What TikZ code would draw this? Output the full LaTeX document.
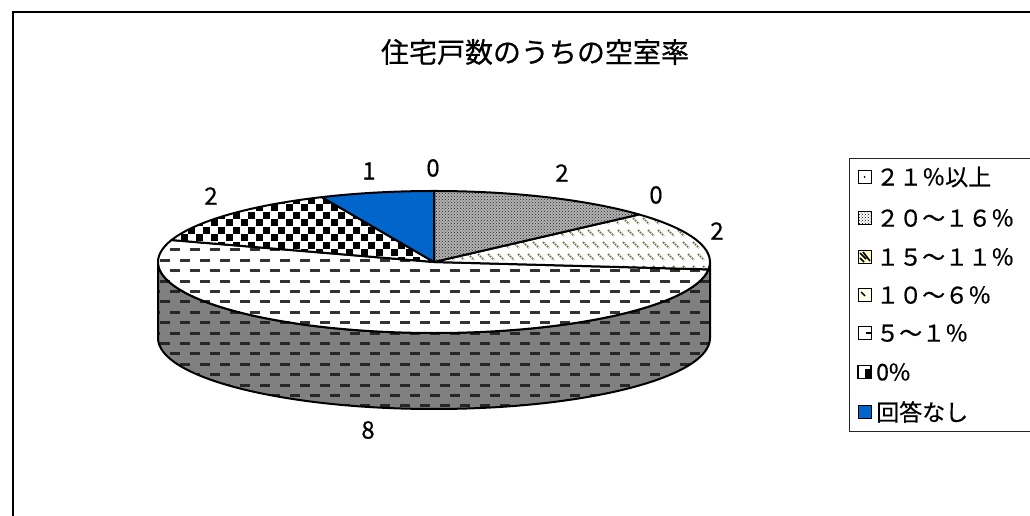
\documentclass[tikz,border=0pt]{standalone}
\usepackage{fontspec}
\setmainfont{Noto Sans CJK JP}[FakeBold=0.5]
\usetikzlibrary{patterns}
\definecolor{pieblue}{RGB}{0,102,204}
\definecolor{olivedash}{RGB}{120,120,80}
\definecolor{sidegray}{RGB}{128,128,128}
\definecolor{dashdark}{RGB}{50,50,50}
\definecolor{lightyel}{RGB}{255,255,204}
\begin{document}
\begin{tikzpicture}[x=1pt,y=1pt,
  outline/.style={draw=black,line width=2pt,line join=round},
  lbl/.style={font=\fontsize{24}{28}\selectfont,inner sep=0pt},
  legtext/.style={font=\fontsize{23}{27}\selectfont,anchor=west,inner sep=0pt},
  swatch/.style={draw=black,line width=1pt},
  dashrow/.style={line width=3pt,dash pattern=on 10pt off 10pt},
  hatchline/.style={draw=olivedash,line width=2pt,dash pattern=on 1.6pt off 1.2pt}]
\useasboundingbox (0,0) rectangle (1030,516);
\fill[white] (0,0) rectangle (1030,516);
\draw[line width=2.4pt] (13,-20) -- (13,504) -- (1050,504);
% paths
\def\sidepath{(158,254) -- (158,178) arc[start angle=180,end angle=360,x radius=276,y radius=71] -- (710,254) arc[start angle=0,end angle=-180,x radius=276,y radius=71] -- cycle}
\def\secA{(434,254) -- ++(90:276pt and 71pt) arc[start angle=90,end angle=42,x radius=276,y radius=71] -- cycle}
\def\secB{(434,254) -- ++(42:276pt and 71pt) arc[start angle=42,end angle=-6,x radius=276,y radius=71] -- cycle}
\def\secC{(434,254) -- ++(-6:276pt and 71pt) arc[start angle=-6,end angle=-198,x radius=276,y radius=71] -- cycle}
\def\secD{(434,254) -- ++(162:276pt and 71pt) arc[start angle=162,end angle=114,x radius=276,y radius=71] -- cycle}
\def\secE{(434,254) -- ++(114:276pt and 71pt) arc[start angle=114,end angle=90,x radius=276,y radius=71] -- cycle}
% side wall
\fill[sidegray] \sidepath;
\begin{scope}
  \clip \sidepath;
  \foreach \k in {0,...,17} {
    \pgfmathsetmacro\yy{266-10.4*\k}
    \pgfmathsetmacro\ph{10*mod(\k,2)}
    \draw[dashrow,draw=black!85,dash phase=\ph pt] (150,\yy) -- (720,\yy);
  }
\end{scope}
\draw[outline] \sidepath;
% 5-1% top
\fill[white] \secC;
\begin{scope}
  \clip \secC;
  \foreach \k in {0,...,9} {
    \pgfmathsetmacro\yy{266-10.4*\k}
    \pgfmathsetmacro\ph{10*mod(\k,2)}
    \draw[dashrow,draw=dashdark,dash phase=\ph pt] (150,\yy) -- (720,\yy);
  }
\end{scope}
\draw[outline] \secC;
% 10-6%
\fill[white] \secB;
\begin{scope}
  \clip \secB;
  \foreach \j in {0,...,7} {
    \foreach \i in {0,...,29} {
      \draw[hatchline] ({428+10*\i+5*mod(\j,2)},{310-12*\j}) -- ++(6,-6);
    }
  }
\end{scope}
\draw[outline] \secB;
% 20-16%
\fill[gray!60] \secA;
\fill[pattern=crosshatch dots,pattern color=black!85] \secA;
\draw[outline] \secA;
% 0%
\fill[white] \secD;
\begin{scope}
  \clip \secD;
  \foreach \j in {0,...,11} {
    \pgfmathtruncatemacro\off{mod(\j,2)}
    \foreach \i in {0,2,...,38} {
      \fill[black] ({158+7.5*(\i+\off)},{252+7.5*\j}) rectangle ++(7,7);
    }
  }
\end{scope}
\draw[outline] \secD;
% no answer
\fill[pieblue] \secE;
\draw[outline] \secE;
% labels
\node[lbl] (l21) at (433,348) {0};
\node[lbl] (l20) at (562,343) {2};
\node[lbl] (l15) at (656,321) {0};
\node[lbl] (l10) at (717,285) {2};
\node[lbl] (l5) at (368,86) {8};
\node[lbl] (l0) at (211,320) {2};
\node[lbl] (lna) at (369,345) {1};
% title
\node[font=\fontsize{28}{32}\selectfont,inner sep=0pt] (title) at (535,464) {住宅戸数のうちの空室率};
% legend
\draw[line width=1pt,draw=black!85] (849,84) rectangle (1045,357);
\draw[swatch,fill=white] (858,332.5) rectangle ++(13,13);
\fill (864.5,339) circle (1);
\fill[white] (858,291.5) rectangle ++(13,13);
\fill[pattern=crosshatch dots,pattern color=black] (858,291.5) rectangle ++(13,13);
\draw[swatch] (858,291.5) rectangle ++(13,13);
\draw[swatch,fill=lightyel] (858,252.5) rectangle ++(13,13);
\draw[line width=1.6pt] (860,263) -- (866,257) (863,264) -- (870,255) (860,258) -- (864,254);
\draw[swatch,fill=lightyel!40] (858,214.5) rectangle ++(13,13);
\draw[line width=1.4pt] (861,224) -- (865,220);
\draw[swatch,fill=white] (858,176.5) rectangle ++(13,13);
\draw[line width=1.2pt] (866,183) -- (871,183);
\draw[line width=1.6pt,fill=white] (858,137.5) rectangle ++(13,13);
\fill[black] (865,137.5) rectangle (871,147);
\draw[swatch,fill=pieblue] (858,97.5) rectangle ++(13,13);
\node[legtext] (g1) at (876,339) {２１％以上};
\node[legtext] (g2) at (876,298) {２０～１６％};
\node[legtext] (g3) at (876,259) {１５～１１％};
\node[legtext] (g4) at (876,221) {１０～６％};
\node[legtext] (g5) at (876,183) {５～１％};
\node[legtext] (g6) at (876,144) {0\%};
\node[legtext] (g7) at (876,104) {回答なし};
\end{tikzpicture}
\end{document}
